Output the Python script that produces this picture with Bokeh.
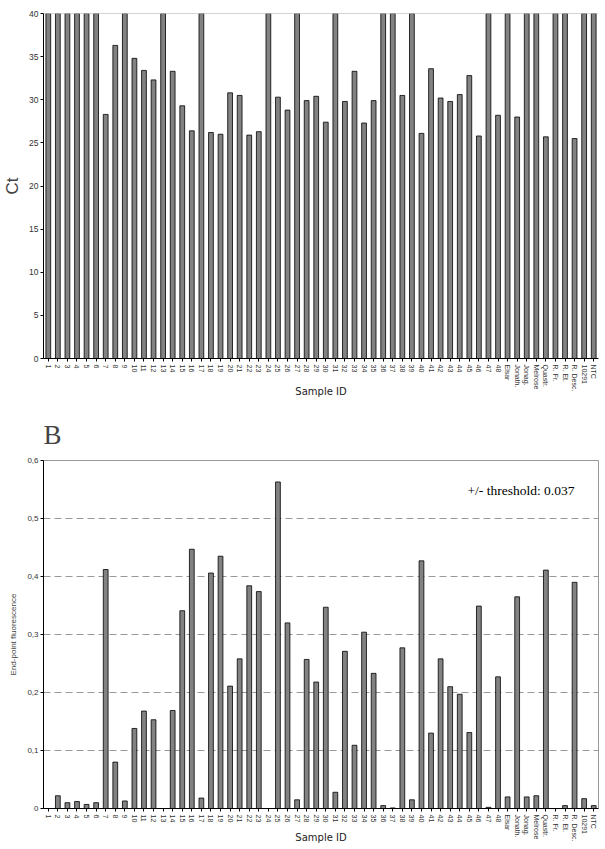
from bokeh.plotting import figure
from bokeh.layouts import column
from bokeh.models import FactorRange, Range1d, Span, Label, CustomJSTickFormatter, FixedTicker, Title
from bokeh.embed import file_html
from bokeh.resources import INLINE

samples = [str(i) for i in range(1, 49)] + ["Elsar", "Jonath.", "Jonag.", "Melrose", "Quastr.",
                                            "R. Fr.", "R. Et.", "R. Desc.", "10291", "NTC"]

ct_values = [40, 40, 40, 40, 40, 40, 28.3, 36.3, 40, 34.8,
             33.4, 32.3, 40, 33.3, 29.3, 26.4, 40, 26.2, 26.0, 30.8,
             30.5, 25.9, 26.3, 40, 30.3, 28.8, 40, 29.9, 30.4, 27.4,
             40, 29.8, 33.3, 27.3, 29.9, 40, 40, 30.5, 40, 26.1,
             33.6, 30.2, 29.8, 30.6, 32.8, 25.8, 40, 28.2,
             40, 28.0, 40, 40, 25.7, 40, 40, 25.5, 40, 40]

fluorescence = [0, 0.022, 0.010, 0.012, 0.007, 0.010, 0.412, 0.080, 0.013, 0.138,
                0.168, 0.153, 0, 0.169, 0.341, 0.447, 0.018, 0.406, 0.435, 0.211,
                0.258, 0.384, 0.374, 0, 0.563, 0.320, 0.015, 0.257, 0.218, 0.347,
                0.028, 0.271, 0.109, 0.304, 0.233, 0.005, 0.001, 0.277, 0.015, 0.427,
                0.130, 0.258, 0.210, 0.197, 0.131, 0.349, 0.002, 0.227,
                0.020, 0.365, 0.020, 0.022, 0.411, 0, 0.005, 0.390, 0.017, 0.005]

ct_ticks = [0, 5, 10, 15, 20, 25, 30, 35, 40]
fl_ticks = [0, 0.1, 0.2, 0.3, 0.4, 0.5, 0.6]
threshold_text = "+/- threshold: 0.037"

SANS = "Liberation Sans"
SERIF = "Liberation Serif"
BAR = "#828282"


def style_axes(p, xlabel_standoff):
    p.xgrid.grid_line_color = None
    p.yaxis.minor_tick_line_color = None
    p.yaxis.major_tick_out = 3
    p.yaxis.major_tick_in = 0
    p.yaxis.major_label_standoff = 2
    p.yaxis.major_label_text_font = SANS
    p.yaxis.major_label_text_font_size = "8.5px"
    p.yaxis.major_label_text_color = "#333333"
    p.yaxis.axis_label_text_font = SANS
    p.yaxis.axis_label_text_font_style = "normal"
    p.xaxis.major_label_orientation = "vertical"
    p.xaxis.major_label_text_font = SANS
    p.xaxis.major_label_text_font_size = "7px"
    p.xaxis.major_label_text_color = "#333333"
    p.xaxis.major_label_standoff = 3
    p.xaxis.major_tick_out = 3
    p.xaxis.major_tick_in = 0
    p.xaxis.axis_label = "Sample ID"
    p.xaxis.axis_label_text_font = "DejaVu Sans"
    p.xaxis.axis_label_text_font_size = "10px"
    p.xaxis.axis_label_text_font_style = "normal"
    p.xaxis.axis_label_text_color = "#222222"
    p.xaxis.axis_label_standoff = xlabel_standoff
    for ax in (p.xaxis, p.yaxis):
        ax.axis_line_color = "black"
        ax.major_tick_line_color = "black"


# ---------- Panel A ----------
p1 = figure(x_range=FactorRange(factors=samples), y_range=Range1d(0, 40),
            width=600, height=405, output_backend="svg", toolbar_location=None,
            min_border_left=42, min_border_right=2, min_border_top=13, min_border_bottom=47)
p1.vbar(x=samples, top=ct_values, width=0.5, fill_color=BAR, line_color="black", line_width=0.8)
p1.outline_line_color = None
p1.ygrid.grid_line_color = None
p1.add_layout(Span(location=40, dimension="width", line_color="#aaaaaa", line_width=1))
p1.yaxis.ticker = FixedTicker(ticks=ct_ticks)
style_axes(p1, -8)
p1.yaxis.axis_label = "Ct"
p1.yaxis.axis_label_text_font_size = "17px"
p1.yaxis.axis_label_standoff = 4

# ---------- Panel B ----------
p2 = figure(x_range=FactorRange(factors=samples), y_range=Range1d(0, 0.6),
            width=600, height=444, output_backend="svg", toolbar_location=None,
            min_border_left=39, min_border_right=2, min_border_top=55, min_border_bottom=41)
p2.title = Title(text="B", text_font=SERIF, text_font_size="27px", text_font_style="normal",
                 align="left", offset=0, standoff=22)
p2.title_location = "above"
p2.vbar(x=samples, top=fluorescence, width=0.5, fill_color=BAR, line_color="black", line_width=0.8)
p2.outline_line_color = "#999999"
p2.ygrid.grid_line_color = "#999999"
p2.ygrid.grid_line_dash = "7 4"
p2.ygrid.grid_line_width = 1
p2.yaxis.ticker = FixedTicker(ticks=fl_ticks)
p2.yaxis.formatter = CustomJSTickFormatter(
    code="return tick == 0 ? '0' : tick.toFixed(1).replace('.', ',');")
style_axes(p2, -12)
p2.yaxis.major_label_text_font_size = "8px"
p2.yaxis.axis_label = "End-point fluorescence"
p2.yaxis.axis_label_text_font_size = "8px"
p2.yaxis.axis_label_standoff = 6

p2.add_layout(Label(x=44.3, y=0.548, text=threshold_text, text_font=SERIF,
                    text_font_size="13.5px", text_baseline="middle", text_color="black"))

layout = column(p1, p2, spacing=0)
open("out.html", "w").write(file_html(layout, INLINE))
